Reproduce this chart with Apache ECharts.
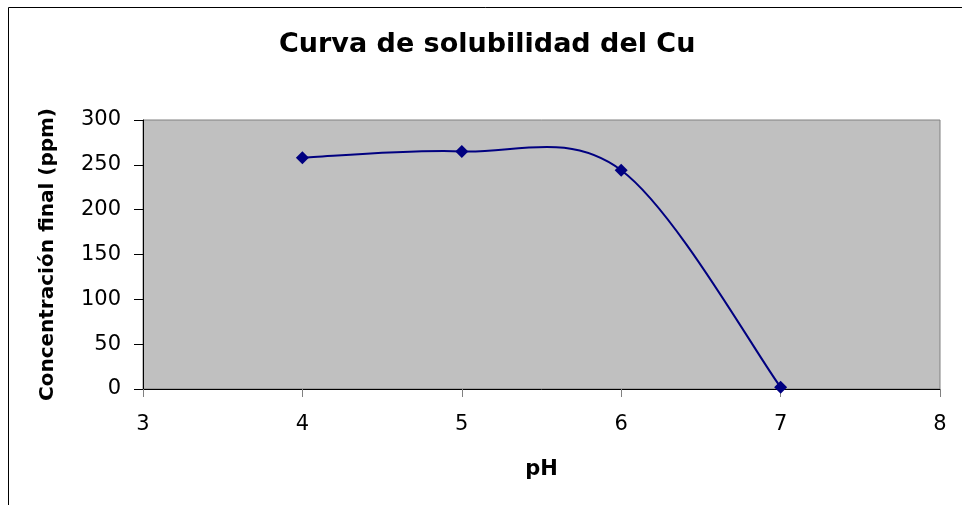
<!DOCTYPE html>
<html>
<head>
<meta charset="utf-8">
<script src="https://cdn.jsdelivr.net/npm/echarts@6/dist/echarts.min.js"></script>
<style>
  html, body { margin: 0; padding: 0; background: #fff; }
  #main { width: 962px; height: 505px; }
</style>
</head>
<body>
<div id="main"></div>
<script>
var phValues = [4, 5, 6, 7];
var concValues = [258, 265, 244, 2];
var chartTitle = 'Curva de solubilidad del Cu';
var xName = 'pH';
var yName = 'Concentración final (ppm)';

var font = '"DejaVu Sans", Arial, sans-serif';
var myChart = echarts.init(document.getElementById('main'));

var points = [];
for (var i = 0; i < phValues.length; i++) {
	points.push([phValues[i], concValues[i]]);
}

// spreadsheet-style smoothed line: one bezier per segment,
// control points from the neighbours (catmull-rom, 1/6)
function renderSegment(params, api) {
	var i = params.dataIndex;
	var n = points.length;
	if (i >= n - 1) return null;
	var p0 = api.coord(points[Math.max(i - 1, 0)]);
	var p1 = api.coord(points[i]);
	var p2 = api.coord(points[i + 1]);
	var p3 = api.coord(points[Math.min(i + 2, n - 1)]);
	return {
		type: 'bezierCurve',
		shape: {
			x1: p1[0], y1: p1[1],
			cpx1: p1[0] + (p2[0] - p0[0]) / 6,
			cpy1: p1[1] + (p2[1] - p0[1]) / 6,
			cpx2: p2[0] - (p3[0] - p1[0]) / 6,
			cpy2: p2[1] - (p3[1] - p1[1]) / 6,
			x2: p2[0], y2: p2[1]
		},
		style: { fill: null, stroke: '#000080', lineWidth: 2 }
	};
}

myChart.setOption({
	backgroundColor: '#ffffff',
	animation: false,
	title: {
		text: chartTitle,
		left: 274,
		top: 26,
		textStyle: { fontFamily: font, fontSize: 27, fontWeight: 'bold', color: '#000' }
	},
	graphic: [{
		type: 'rect',
		shape: { x: 8.5, y: 7.5, width: 1000, height: 600 },
		style: { fill: 'none', stroke: '#000', lineWidth: 1 },
		silent: true
	}],
	grid: {
		left: 143,
		right: 22,
		top: 120,
		bottom: 116,
		show: true,
		backgroundColor: '#c0c0c0',
		borderColor: '#808080',
		borderWidth: 1
	},
	xAxis: {
		type: 'value',
		min: 3,
		max: 8,
		interval: 1,
		name: xName,
		nameLocation: 'middle',
		nameGap: 70,
		nameTextStyle: { fontFamily: font, fontSize: 21, fontWeight: 'bold', color: '#000' },
		axisLine: { show: true, lineStyle: { color: '#000', width: 1 } },
		axisTick: { show: true, inside: false, length: 8, lineStyle: { color: '#808080' } },
		axisLabel: { fontFamily: font, fontSize: 21, color: '#000', margin: 25 },
		splitLine: { show: false }
	},
	yAxis: {
		type: 'value',
		min: 0,
		max: 300,
		interval: 50,
		name: yName,
		nameLocation: 'middle',
		nameGap: 85,
		nameRotate: 90,
		nameTextStyle: { fontFamily: font, fontSize: 20, fontWeight: 'bold', color: '#000' },
		axisLine: { show: true, lineStyle: { color: '#000', width: 1 } },
		axisTick: { show: true, inside: false, length: 9, lineStyle: { color: '#000' } },
		axisLabel: { fontFamily: font, fontSize: 21, color: '#000', margin: 22 },
		splitLine: { show: false }
	},
	series: [{
		type: 'custom',
		data: points,
		renderItem: renderSegment,
		clip: false,
		z: 2
	}, {
		type: 'scatter',
		data: points,
		symbol: 'diamond',
		symbolSize: 13,
		itemStyle: { color: '#000080', opacity: 1 },
		z: 3
	}]
});
</script>
</body>
</html>
